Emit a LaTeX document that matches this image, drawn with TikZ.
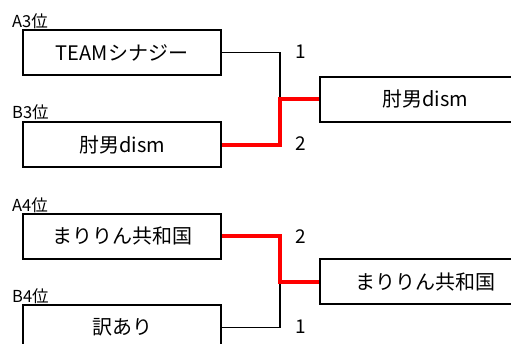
\documentclass[tikz,border=0pt]{standalone}
\usepackage{fontspec}
\setmainfont{Noto Sans CJK JP}
\def\bw{198pt}
\def\bh{45pt}

\begin{document}
\begin{tikzpicture}[x=1pt, y=-1pt, every node/.style={inner sep=0}, team/.style={rectangle,draw,line width=2pt,minimum width=\bw,minimum height=\bh,font=\fontsize{20}{23}\selectfont}, seed/.style={anchor=west,font=\fontsize{16.5}{18}\selectfont}, score/.style={font=\fontsize{19}{22}\selectfont}, lose/.style={line width=1.5pt}, win/.style={red,line width=4pt}]
		\useasboundingbox (0,0) rectangle (511,343);
		\clip (0,0) rectangle (511,343);
		
		\node (SA3) at (12,21) [seed] {A3位};
		\node (A3) at (122,52.5) [team] {TEAMシナジー};
		\node (SB3) at (12,112) [seed] {B3位};
		\node (B3) at (122,144.5) [team] {肘男dism};
		
		\node (SA4) at (12,205) [seed] {A4位};
		\node (A4) at (122,236) [team] {まりりん共和国};
		\node (SB4) at (12,296) [seed] {B4位};
		\node (B4) at (122,327.5) [team] {訳あり};
		
		\node (F1) at (425,99) [team, minimum width=210pt] {肘男dism};
		\node (F2) at (425,281.5) [team, minimum width=210pt] {まりりん共和国};
		
		\coordinate (J1) at (280,99);
		\coordinate (J2) at (280,281.5);
		
		\draw[lose] (A3.east) -| (J1);
		\draw[lose] (B4.east) -| (J2);
		\draw[win] (B3.east) -| (J1) -- (F1.west);
		\draw[win] (A4.east) -| (J2) -- (F2.west);
		
		\node (N1) at (301,52) [score] {1};
		\node (N2) at (301,144) [score] {2};
		\node (N3) at (301,237) [score] {2};
		\node (N4) at (301,327) [score] {1};
		
	\end{tikzpicture}
\end{document}
